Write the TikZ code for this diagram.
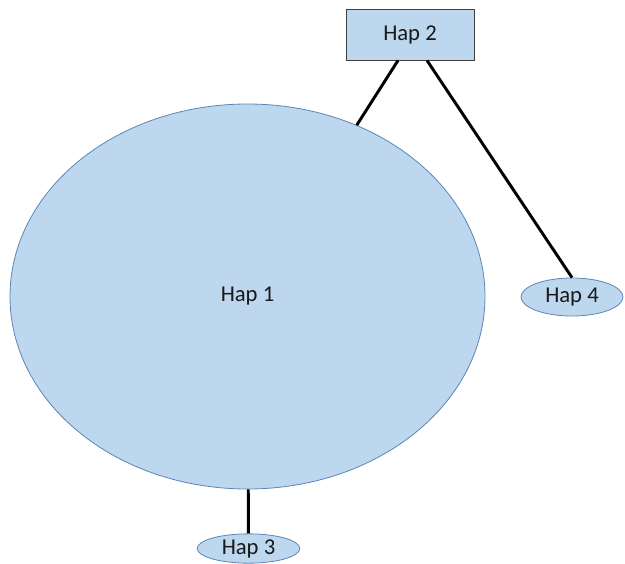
\documentclass[tikz,border=0pt]{standalone}
\usepackage{fontspec}
\setmainfont{Carlito}
\usetikzlibrary{shapes.geometric}
\definecolor{hapfill}{HTML}{BDD7EE}
\definecolor{hapedge}{HTML}{5B87B5}
\definecolor{boxedge}{HTML}{404040}
\begin{document}
\begin{tikzpicture}[x=0.75pt,y=-0.75pt,
  every node/.style={font=\fontsize{17pt}{20pt}\selectfont, text=black!90},
  hapell/.style={ellipse, draw=hapedge, fill=hapfill, line width=0.6pt, inner sep=0pt},
  hapbox/.style={rectangle, draw=boxedge, fill=hapfill, line width=0.7pt, inner sep=0pt},
  link/.style={line width=2.2pt, black}]
\useasboundingbox (0,0) rectangle (625,564);
\node[hapell, minimum width=356.25pt, minimum height=288.75pt] (h1) at (247.5,296.5) {Hap 1};
\node[hapbox, minimum width=96pt, minimum height=38.25pt] (h2) at (410,34.5) {Hap 2};
\node[hapell, minimum width=77pt, minimum height=22pt] (h3) at (248.5,548.5) {Hap 3};
\node[hapell, minimum width=76.5pt, minimum height=28.5pt] (h4) at (572,297) {Hap 4};
\coordinate (h2l) at ([xshift=-9pt]h2.south);
\coordinate (h2r) at ([xshift=12.75pt]h2.south);
\draw[link] (h2l) -- (h1);
\draw[link] (h2r) -- (h4.north);
\draw[link] (h1) -- (h3);
\end{tikzpicture}
\end{document}
